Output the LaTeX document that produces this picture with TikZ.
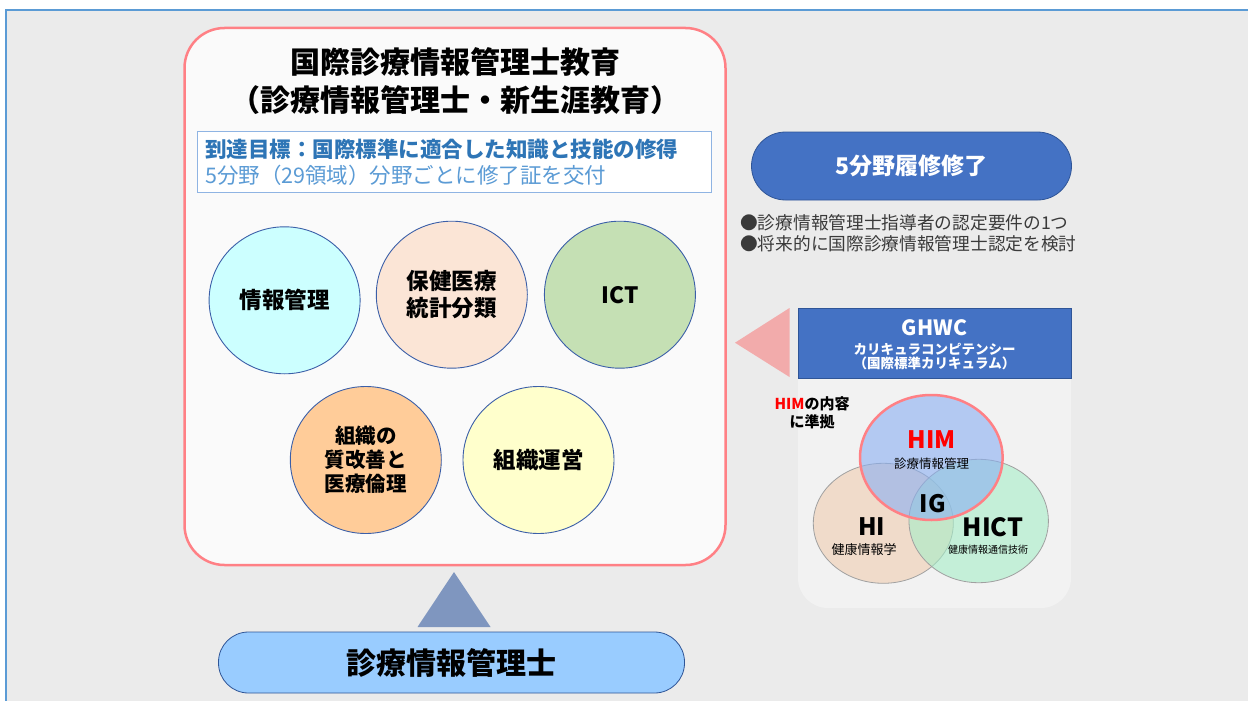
\documentclass[tikz,border=0pt]{standalone}
\usepackage{fontspec}
\setmainfont{Noto Sans CJK JP}
\usetikzlibrary{shapes.geometric}
\definecolor{bgc}{HTML}{EBEBEB}
\definecolor{blueline}{HTML}{5B9BD5}
\definecolor{mainborder}{HTML}{FF8085}
\definecolor{mainfill}{HTML}{FAFAFA}
\definecolor{goaldark}{HTML}{2E75B6}
\definecolor{goallight}{HTML}{5B9BD5}
\definecolor{goalborder}{HTML}{8FB4E3}
\definecolor{circborder}{HTML}{3B5FA8}
\definecolor{cA}{HTML}{CCFFFF}
\definecolor{cB}{HTML}{FBE5D6}
\definecolor{cC}{HTML}{C5E0B4}
\definecolor{cD}{HTML}{FFCC99}
\definecolor{cE}{HTML}{FFFFCC}
\definecolor{uptri}{HTML}{7F96BF}
\definecolor{pillblue}{HTML}{99CCFF}
\definecolor{darkblue}{HTML}{2F5597}
\definecolor{midblue}{HTML}{4472C4}
\definecolor{pinktri}{HTML}{F2ABAB}
\definecolor{panel}{HTML}{F2F2F2}
\definecolor{bullettext}{HTML}{3A3A3A}
\definecolor{himfill}{HTML}{8AAFF2}
\definecolor{hifill}{HTML}{F0CDB0}
\definecolor{hictfill}{HTML}{A6EEC8}
\definecolor{vennline}{HTML}{A0A0A0}
\begin{document}
\begin{tikzpicture}[x=1pt,y=-1pt,
  circ/.style={shape=ellipse, draw=circborder, line width=0.9pt, inner sep=0pt,
    minimum width=151pt, minimum height=147pt, align=center, font=\bfseries\fontsize{22.5}{27}\selectfont},
  pill/.style={draw=darkblue, line width=0.8pt, inner sep=0pt},
  venn/.style={shape=ellipse, draw=vennline, line width=0.8pt, inner sep=0pt, fill opacity=0.6}
]
\useasboundingbox (0,0) rectangle (1248,701);
\fill[white] (0,0) rectangle (1248,701);
\fill[bgc] (6,10) rectangle (1248,701);
\draw[blueline, line width=2pt] (6,701) -- (6,10) -- (1248,10);

% main box
\node[draw=mainborder, line width=2.5pt, fill=mainfill, rounded corners=40pt,
  minimum width=541pt, minimum height=537pt] (edu) at (455,296.5) {};
\node[align=center, font=\bfseries\fontsize{30}{38}\selectfont] (title) at (455,81)
  {国際診療情報管理士教育\\（診療情報管理士・新生涯教育）};
\node[draw=goalborder, line width=0.8pt, fill=white, minimum width=514pt, minimum height=61pt] (goal) at (454,161.5) {};
\node[anchor=west, inner sep=0pt, text=goaldark, font=\bfseries\fontsize{21.5}{24}\selectfont] (goal1) at (205,149) {到達目標：国際標準に適合した知識と技能の修得};
\node[anchor=west, inner sep=0pt, text=goallight, font=\fontsize{21.5}{24}\selectfont] (goal2) at (205,175) {5分野（29領域）分野ごとに修了証を交付};

% circles
\node[circ, fill=cA] (c1) at (284.6,300.3) {情報管理};
\node[circ, fill=cB] (c2) at (451.8,294.7) {保健医療\\統計分類};
\node[circ, fill=cC] (c3) at (619.9,294.7) {ICT};
\node[circ, fill=cD, font=\bfseries\fontsize{20.5}{24}\selectfont] (c4) at (365.8,460) {組織の\\質改善と\\医療倫理};
\node[circ, fill=cE] (c5) at (538.5,460) {組織運営};

% bottom pill and up triangle
\node[pill, fill=pillblue, rounded corners=30pt, minimum width=466pt, minimum height=61pt,
  font=\bfseries\fontsize{30}{34}\selectfont] (him) at (451.5,662.5) {診療情報管理士};
\coordinate (uptop) at (454,572);
\coordinate (upl) at (417.5,627);
\coordinate (upr) at (490.5,627);
\fill[uptri] (uptop) -- (upr) -- (upl) -- cycle;

% right pill
\node[pill, fill=midblue, rounded corners=34pt, minimum width=320pt, minimum height=68pt,
  text=white, font=\bfseries\fontsize{23}{26}\selectfont] (done) at (911.5,166) {5分野履修修了};
\node[anchor=north west, inner sep=0pt, align=left, text=bullettext,
  font=\fontsize{17.7}{21.5}\selectfont] (bullets) at (740,214)
  {●診療情報管理士指導者の認定要件の1つ\\●将来的に国際診療情報管理士認定を検討};

% right panel
\fill[panel, rounded corners=30pt] (798,308) rectangle (1071,608);
\node[draw=darkblue, line width=0.8pt, fill=midblue, minimum width=273pt, minimum height=70pt] (ghwc) at (934.5,343) {};
\node[text=white, font=\bfseries\fontsize{21}{24}\selectfont, inner sep=0pt] (ghwct) at (934.5,328) {GHWC};
\node[text=white, font=\bfseries\fontsize{13.5}{14}\selectfont, inner sep=0pt, align=center] (ghwcs) at (934.5,357)
  {カリキュラコンピテンシー\\（国際標準カリキュラム）};
\coordinate (lt) at (735,342.7);
\coordinate (ltu) at (789.5,308);
\coordinate (ltd) at (789.5,377);
\fill[pinktri] (lt) -- (ltu) -- (ltd) -- cycle;
\node[align=center, inner sep=0pt, font=\bfseries\fontsize{15}{18}\selectfont] (comply) at (812,413)
  {\textcolor{red}{HIM}の内容\\に準拠};

% venn
\node[venn, fill=hifill, minimum width=140pt, minimum height=120pt] (hi) at (883.3,523.3) {};
\node[venn, fill=hictfill, minimum width=139.4pt, minimum height=123.4pt] (hict) at (978.7,521) {};
\node[venn, fill=himfill, draw=mainborder, line width=2.5pt, minimum width=142.6pt, minimum height=125pt] (himc) at (931.3,457.5) {};
\node[text=red, font=\bfseries\fontsize{24}{26}\selectfont, inner sep=0pt] (himt) at (931.5,440) {HIM};
\node[font=\fontsize{12.5}{14}\selectfont, inner sep=0pt] (hims) at (931.5,464) {診療情報管理};
\node[font=\bfseries\fontsize{24}{26}\selectfont, inner sep=0pt] (igt) at (932.7,503.3) {IG};
\node[font=\bfseries\fontsize{24}{26}\selectfont, inner sep=0pt] (hit) at (871.7,526.7) {HI};
\node[font=\fontsize{13}{14}\selectfont, inner sep=0pt] (his) at (864,550) {健康情報学};
\node[font=\bfseries\fontsize{25}{26}\selectfont, inner sep=0pt] (hictt) at (993,526.7) {HICT};
\node[font=\fontsize{10}{12}\selectfont, inner sep=0pt] (hicts) at (988,549.3) {健康情報通信技術};
\end{tikzpicture}
\end{document}
